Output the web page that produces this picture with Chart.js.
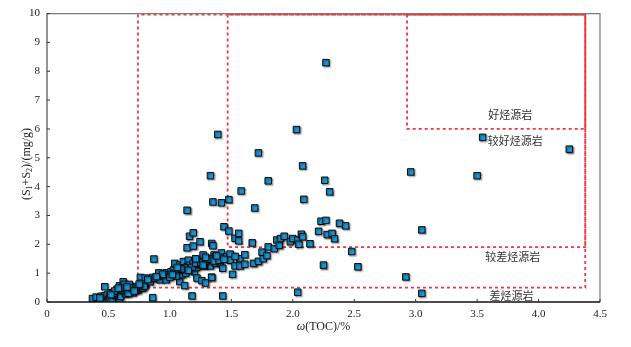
<!DOCTYPE html>
<html>
<head>
<meta charset="utf-8">
<script src="https://cdn.jsdelivr.net/npm/chart.js@4"></script>
<style>
  html, body { margin: 0; padding: 0; background: #fff; }
  #wrap { width: 631px; height: 347px; }
</style>
</head>
<body>
<div id="wrap"><canvas id="c" width="631" height="347"></canvas></div>
<script>
// TOC (%) and S1+S2 (mg/g)
const toc = [
  0.37, 0.40, 0.44, 0.47, 0.49, 0.50, 0.51, 0.53, 0.53, 0.55, 0.57, 0.56, 0.59, 0.59, 0.59, 0.60,
  0.62, 0.63, 0.64, 0.64, 0.66, 0.67, 0.69, 0.70, 0.72, 0.47, 0.74, 0.76, 0.76, 0.77, 0.78, 0.80,
  0.80, 0.79, 0.84, 0.86, 0.88, 0.87, 0.86, 0.91, 0.91, 0.93, 0.92, 0.95, 0.97, 0.97, 0.99, 1.01,
  1.03, 1.04, 1.04, 1.07, 1.08, 1.08, 1.10, 1.11, 1.11, 1.12, 1.13, 1.14, 1.14, 1.15, 1.16, 1.16,
  1.17, 1.18, 1.19, 1.19, 1.19, 1.20, 1.22, 1.22, 1.22, 1.245, 1.24, 1.26, 1.26, 1.27, 1.28, 1.29,
  1.30, 1.31, 1.33, 1.34, 1.34, 1.34, 1.35, 1.36, 1.37, 1.37, 1.39, 1.41, 1.42, 1.43, 1.43, 1.43,
  1.44, 1.46, 1.48, 1.49, 1.49, 1.51, 1.53, 1.53, 1.56, 1.56, 1.57, 1.57, 1.61, 1.61, 1.67, 1.68,
  1.72, 1.75, 1.76, 1.79, 1.80, 1.85, 1.87, 1.89, 1.90, 1.93, 1.98, 2.00, 2.04, 2.05, 2.07, 2.08,
  2.14, 2.21, 2.23, 2.27, 2.28, 2.32, 2.34, 2.38, 2.43, 2.48, 2.25, 2.53, 2.92, 2.04, 3.05, 3.05,
  2.96, 3.50, 3.545, 4.25, 2.27, 2.03, 1.39, 1.72, 2.08, 1.33, 1.80, 2.26, 1.58, 2.30, 1.48, 1.35,
  1.42, 2.09, 1.69, 1.14, 1.34,
  1.00, 1.05, 1.12, 1.18, 1.21, 1.25, 1.29, 1.32, 1.36, 1.40, 1.27, 1.15, 1.09, 1.02, 1.06, 0.94,
  1.38, 1.44, 1.29, 1.21, 0.62, 0.66, 0.68, 0.60, 0.55, 0.72, 1.53,
  0.43, 0.52, 0.58, 0.65, 0.71, 0.75, 0.82, 0.89
];
const s1s2 = [
  0.12, 0.17, 0.20, 0.21, 0.24, 0.08, 0.18, 0.32, 0.10, 0.24, 0.44, 0.30, 0.36, 0.03, 0.56, 0.20,
  0.70, 0.61, 0.36, 0.28, 0.45, 0.61, 0.42, 0.32, 0.53, 0.53, 0.40, 0.50, 0.85, 0.65, 0.48, 0.83,
  0.62, 0.55, 0.70, 0.85, 0.82, 1.49, 0.15, 0.97, 1.01, 0.84, 0.77, 0.90, 1.01, 0.77, 0.94, 1.05,
  1.11, 0.99, 1.34, 1.07, 1.28, 0.71, 0.95, 1.11, 1.40, 0.57, 1.00, 1.22, 1.88, 1.45, 1.28, 2.28,
  1.15, 0.21, 1.34, 2.40, 1.94, 1.05, 1.40, 0.83, 1.20, 2.09, 1.30, 1.45, 0.74, 1.63, 1.25, 0.66,
  1.45, 1.35, 1.25, 1.51, 0.86, 2.03, 1.95, 1.63, 1.57, 1.34, 1.51, 1.34, 1.70, 1.55, 1.17, 0.21,
  2.61, 1.57, 2.46, 1.66, 1.45, 0.96, 1.25, 2.21, 2.38, 2.12, 1.50, 1.25, 1.64, 1.31, 2.05, 1.34,
  1.41, 1.73, 1.50, 1.61, 1.91, 1.85, 2.15, 1.97, 2.20, 2.28, 2.09, 2.20, 2.15, 2.00, 2.35, 2.26,
  2.02, 2.45, 2.80, 2.83, 2.34, 2.38, 2.19, 2.73, 2.64, 1.75, 1.28, 1.22, 0.87, 0.34, 0.30, 2.50,
  4.51, 4.38, 5.71, 5.30, 8.30, 5.98, 5.81, 5.17, 4.72, 4.38, 4.20, 4.22, 3.85, 3.82, 3.55, 3.47,
  3.44, 3.56, 3.26, 3.18, 0.85,
  0.85, 0.90, 1.18, 1.20, 1.35, 1.38, 1.40, 1.48, 1.42, 1.45, 1.28, 1.10, 1.15, 0.95, 1.20, 0.96,
  1.60, 1.48, 1.55, 1.50, 0.40, 0.30, 0.50, 0.48, 0.38, 0.44, 1.58,
  0.14, 0.26, 0.48, 0.52, 0.38, 0.62, 0.78, 0.88
];

const xTickLabels = ['0', '0.5', '1.0', '1.5', '2.0', '2.5', '3.0', '3.5', '4.0', '4.5'];
const yTickLabels = ['0', '1', '2', '3', '4', '5', '6', '7', '8', '9', '10'];

// source-rock zones: [tocMin, tocMax, s1s2Min, s1s2Max]
const zoneBoxes = [
  [0.74, 4.38, 0.5, 10],
  [1.47, 4.38, 1.9, 10],
  [2.93, 4.38, 6.0, 10]
];
const zoneNames = ['好烃源岩', '较好烃源岩', '较差烃源岩', '差烃源岩'];
const zoneTextAt = [[3.77, 6.5], [3.81, 5.6], [3.79, 1.56], [3.78, 0.2]];

const points = toc.map((x, i) => ({ x: x, y: s1s2[i] }));
const serif = '"Liberation Serif", "DejaVu Serif", serif';

const overlay = {
  id: 'overlay',
  beforeDatasetsDraw(chart) {
    const ctx = chart.ctx, xs = chart.scales.x, ys = chart.scales.y;
    ctx.save();
    ctx.strokeStyle = '#f0353f';
    ctx.lineWidth = 1.8;
    ctx.setLineDash([3, 3]);
    zoneBoxes.forEach(b => {
      const x0 = xs.getPixelForValue(b[0]), x1 = xs.getPixelForValue(b[1]);
      const y0 = ys.getPixelForValue(b[2]), y1 = ys.getPixelForValue(b[3]);
      ctx.beginPath();
      ctx.moveTo(x0, y1 + 1);
      ctx.lineTo(x0, y0);
      ctx.lineTo(x1, y0);
      ctx.lineTo(x1, y1 + 1);
      ctx.lineTo(x0, y1 + 1);
      ctx.stroke();
    });
    ctx.restore();

    // drop shadow under the markers
    ctx.save();
    ctx.shadowColor = 'rgba(0,0,0,0.45)';
    ctx.shadowOffsetX = 1.2;
    ctx.shadowOffsetY = 1.2;
    ctx.shadowBlur = 1.5;
  },
  afterDatasetsDraw(chart) {
    const ctx = chart.ctx, xs = chart.scales.x, ys = chart.scales.y;
    const a = chart.chartArea;
    ctx.restore();

    ctx.save();
    // frame
    ctx.strokeStyle = '#7a7a7a';
    ctx.lineWidth = 1.2;
    ctx.beginPath();
    ctx.moveTo(a.left, a.top);
    ctx.lineTo(a.right, a.top);
    ctx.lineTo(a.right, a.bottom);
    ctx.stroke();
    ctx.lineWidth = 1.6;
    ctx.beginPath();
    ctx.moveTo(a.left, a.bottom);
    ctx.lineTo(a.left, a.top);
    ctx.stroke();
    ctx.strokeStyle = '#111';
    ctx.beginPath();
    ctx.moveTo(a.left, a.bottom);
    ctx.lineTo(a.right, a.bottom);
    ctx.stroke();

    // inward tick marks
    ctx.lineWidth = 1;
    ctx.strokeStyle = '#333';
    xs.ticks.forEach(t => {
      const px = xs.getPixelForValue(t.value);
      ctx.beginPath();
      ctx.moveTo(px, a.bottom);
      ctx.lineTo(px, a.bottom - 3);
      ctx.stroke();
    });
    ys.ticks.forEach(t => {
      const py = ys.getPixelForValue(t.value);
      ctx.beginPath();
      ctx.moveTo(a.left, py);
      ctx.lineTo(a.left + 3, py);
      ctx.stroke();
    });

    // zone names
    ctx.fillStyle = '#333';
    ctx.font = '11px "Noto Sans CJK SC", sans-serif';
    ctx.textAlign = 'center';
    ctx.textBaseline = 'middle';
    zoneNames.forEach((n, i) => {
      ctx.fillText(n, xs.getPixelForValue(zoneTextAt[i][0]), ys.getPixelForValue(zoneTextAt[i][1]));
    });

    // x title: italic omega
    ctx.fillStyle = '#222';
    const rest = '(TOC)/%';
    ctx.font = 'italic 12px ' + serif;
    const wOm = ctx.measureText('ω').width;
    ctx.font = '12px ' + serif;
    const wRest = ctx.measureText(rest).width;
    const cx = (a.left + a.right) / 2;
    const startX = cx - (wOm + wRest) / 2;
    ctx.textAlign = 'left';
    ctx.font = 'italic 12px ' + serif;
    ctx.fillText('ω', startX, 327);
    ctx.font = '12px ' + serif;
    ctx.fillText(rest, startX + wOm, 327);

    // y title with subscripts
    ctx.translate(27, 164);
    ctx.rotate(-Math.PI / 2);
    const parts = [['(S', 0], ['1', 1], ['+S', 0], ['2', 1], [')/(mg/g)', 0]];
    let total = 0;
    parts.forEach(p => {
      ctx.font = (p[1] ? '8px ' : '12px ') + serif;
      total += ctx.measureText(p[0]).width;
    });
    let px = -total / 2;
    parts.forEach(p => {
      ctx.font = (p[1] ? '8px ' : '12px ') + serif;
      ctx.fillText(p[0], px, p[1] ? 3 : 0);
      px += ctx.measureText(p[0]).width;
    });
    ctx.restore();
  }
};

new Chart(document.getElementById('c'), {
  type: 'scatter',
  data: {
    datasets: [{
      data: points,
      pointStyle: 'rect',
      pointRadius: 4.6,
      pointHoverRadius: 4.6,
      backgroundColor: '#1b97d5',
      borderColor: '#0b0b0b',
      borderWidth: 1
    }]
  },
  options: {
    responsive: false,
    animation: false,
    layout: { padding: { top: 13, right: 31, left: 0, bottom: 0 } },
    plugins: { legend: { display: false }, tooltip: { enabled: false } },
    scales: {
      x: {
        type: 'linear',
        min: 0, max: 4.5,
        afterFit: s => { s.height = 45; },
        grid: { display: false, drawTicks: false },
        border: { display: false },
        ticks: {
          stepSize: 0.5,
          padding: 6,
          color: '#222',
          font: { family: serif, size: 11 },
          callback: (v, i) => xTickLabels[i]
        }
      },
      y: {
        type: 'linear',
        min: 0, max: 10,
        afterFit: s => { s.width = 47; },
        grid: { display: false, drawTicks: false },
        border: { display: false },
        ticks: {
          stepSize: 1,
          padding: 7,
          color: '#222',
          font: { family: serif, size: 11 },
          callback: (v, i) => yTickLabels[i]
        }
      }
    }
  },
  plugins: [overlay]
});
</script>
</body>
</html>
